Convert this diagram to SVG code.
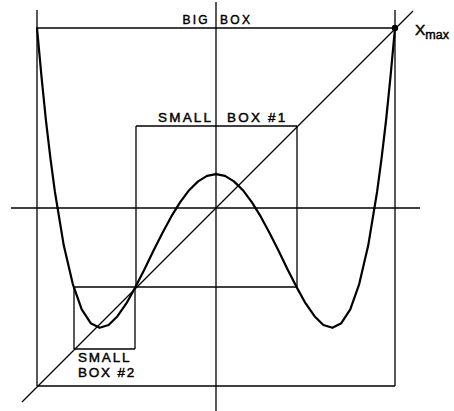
<svg xmlns="http://www.w3.org/2000/svg" width="454" height="411" viewBox="0 0 454 411">
<style>
.ln{stroke:#000;stroke-width:1.3;fill:none}
.cv{stroke:#000;stroke-width:2.2;fill:none;stroke-linejoin:round;stroke-linecap:round}
.t{font-family:"Liberation Sans",Arial,sans-serif;fill:#000;stroke:#000;stroke-width:0.45}
</style>
<rect width="454" height="411" fill="#fff"/>
<g id="axes">
<line class="ln" x1="216" y1="2" x2="216" y2="411"/>
<line class="ln" x1="11" y1="208" x2="420" y2="208"/>
<line class="ln" x1="22" y1="402" x2="413" y2="11"/>
</g>
<g id="big-box">
<line class="ln" x1="37" y1="10" x2="37" y2="386"/>
<line class="ln" x1="395" y1="10" x2="395" y2="386"/>
<line class="ln" x1="37" y1="28" x2="395" y2="28"/>
<line class="ln" x1="37" y1="386" x2="395" y2="386"/>
<text class="t" x="210" y="24" font-size="12" letter-spacing="2.3" text-anchor="end">BIG</text>
<text class="t" x="220" y="24" font-size="12" letter-spacing="2.3">BOX</text>
</g>
<g id="small-box-1">
<line class="ln" x1="136" y1="126" x2="297" y2="126"/>
<line class="ln" x1="136" y1="126" x2="136" y2="287"/>
<line class="ln" x1="297" y1="126" x2="297" y2="287"/>
<line class="ln" x1="74" y1="287" x2="297" y2="287"/>
<text class="t" x="158" y="122" font-size="13.5" letter-spacing="2.2">SMALL</text>
<text class="t" x="227" y="122" font-size="13.5" letter-spacing="2.2">BOX #1</text>
</g>
<g id="small-box-2">
<line class="ln" x1="74" y1="287" x2="74" y2="349"/>
<line class="ln" x1="135" y1="287" x2="135" y2="349"/>
<line class="ln" x1="74" y1="349" x2="135" y2="349"/>
<text class="t" x="78" y="362" font-size="13.5" letter-spacing="1.8">SMALL</text>
<text class="t" x="78" y="377" font-size="13.5" letter-spacing="1.8">BOX #2</text>
</g>
<g id="curve">
<polyline class="cv" points="37,28 41.5,76.7 45.9,120 50.4,158.2 54.9,191.7 63.8,245.6 72.8,284.1 81.7,309.3 90.7,323.2 99.6,327.8 108.6,325 117.5,316.2 126.5,303.2 135.4,287.1 144.4,269.4 153.3,251.1 162.3,233.3 171.2,216.7 180.2,202.1 189.1,190.2 198.1,181.4 207,175.9 216,174.1 225,175.9 233.9,181.4 242.9,190.2 251.8,202.1 260.8,216.7 269.7,233.3 278.7,251.1 287.6,269.4 296.6,287.1 305.5,303.2 314.5,316.2 323.4,325 332.4,327.8 341.3,323.2 350.3,309.3 359.2,284.1 368.2,245.6 377.1,191.7 381.6,158.2 386.1,120 390.5,76.7 395,28"/>
</g>
<g id="xmax">
<circle cx="395" cy="28" r="3.2" fill="#000"/>
<text class="t" x="415" y="34.5" font-size="15.5">X<tspan font-size="12.5" dy="4">max</tspan></text>
</g>
</svg>
